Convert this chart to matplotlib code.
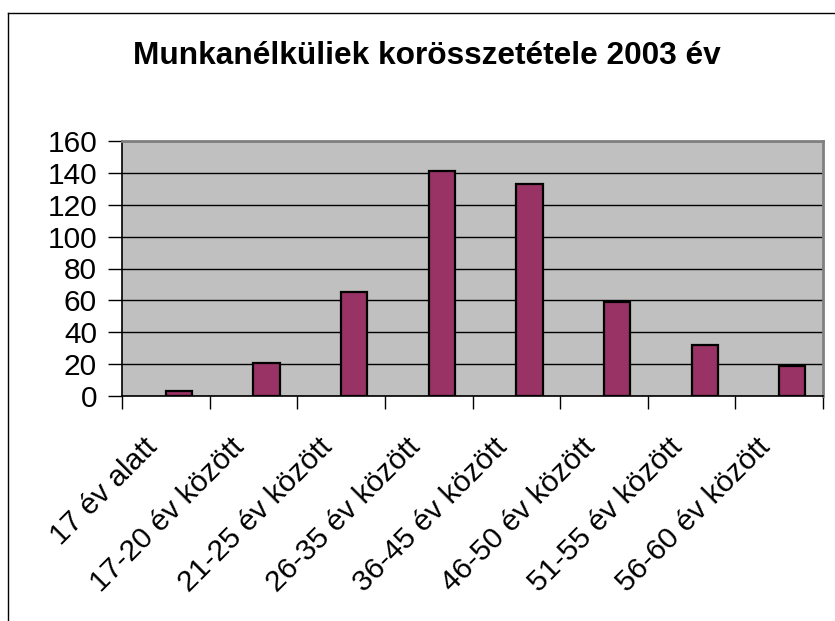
import numpy as np
import matplotlib.pyplot as plt
from matplotlib.lines import Line2D

categories = ['17 év alatt', '17-20 év között', '21-25 év között', '26-35 év között',
              '36-45 év között', '46-50 év között', '51-55 év között', '56-60 év között']
values = [3, 21, 65, 141, 133, 59, 32, 19]
yticks = [0, 20, 40, 60, 80, 100, 120, 140, 160]

plt.rcParams['font.family'] = ['Liberation Sans', 'DejaVu Sans']

fig = plt.figure(figsize=(8.35, 6.21), dpi=100)
ax = fig.add_axes([122/835, 1 - 396/621, (823 - 122)/835, (396 - 141)/621])

x = np.arange(len(categories))
ax.set_axisbelow(True)
ax.bar(x, values, width=0.3, align='edge', color='#993366', edgecolor='black', linewidth=1.6, zorder=3)

ax.set_facecolor('#C0C0C0')
ax.set_xlim(-0.5, len(categories) - 0.5)
ax.set_ylim(0, 160)
ax.set_yticks(yticks)
ax.yaxis.grid(True, color='black', linewidth=1.0)

# category boundaries get the tick marks, labels sit a bit left of the centre
ax.set_xticks(np.arange(len(categories) + 1) - 0.5)
ax.set_xticklabels([])
ax.set_xticks(x - 0.15, minor=True)
ax.set_xticklabels(categories, minor=True, rotation=45, ha='right', va='center',
                   rotation_mode='anchor', fontsize=21.5)
ax.tick_params(axis='x', which='minor', length=0, pad=34)
ax.tick_params(axis='x', which='major', length=9, width=1, color='black')
ax.tick_params(axis='y', length=10, width=1, labelsize=21.5, pad=8)

for s in ['top', 'right']:
    ax.spines[s].set_color('#808080')
    ax.spines[s].set_linewidth(2)
for s in ['left', 'bottom']:
    ax.spines[s].set_color('black')
    ax.spines[s].set_linewidth(1.2)

fig.text(426.5/835, 1 - 64/621, 'Munkanélküliek korösszetétele 2003 év',
         ha='center', va='baseline', fontsize=22.8, fontweight='bold')

# chart area frame (cut off at right and bottom)
fig.add_artist(Line2D([7.5/835, 7.5/835], [0, 1 - 12.5/621], transform=fig.transFigure, color='black', linewidth=1))
fig.add_artist(Line2D([7.5/835, 1], [1 - 12.5/621, 1 - 12.5/621], transform=fig.transFigure, color='black', linewidth=1))

fig.savefig('out.png', dpi=100)
